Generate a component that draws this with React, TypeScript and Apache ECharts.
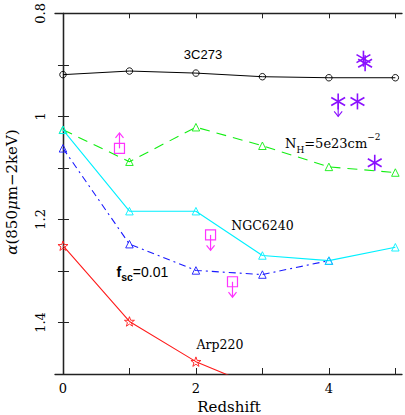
import React, { useEffect, useRef } from 'react';
import * as echarts from 'echarts';

// ---- data ----
const redshift = [0, 1, 2, 3, 4, 5];
const alpha3C273 = [0.919, 0.912, 0.916, 0.923, 0.925, 0.925];
const alphaNH = [1.026, 1.088, 1.021, 1.057, 1.098, 1.109];
const alphaNGC6240 = [1.026, 1.184, 1.184, 1.27, 1.28, 1.254];
const alphaFsc = [1.062, 1.248, 1.299, 1.307, 1.28];
const alphaArp220 = [1.251, 1.398, 1.476, 1.53];

const limitX = [0.85, 2.22, 2.55];
const limitY = [1.062, 1.23, 1.321];
const limitTip = [1.032, 1.26, 1.351];

const obsX = [4.52, 4.545, 4.14, 4.43, 4.69];
const obsY = [0.888, 0.897, 0.971, 0.971, 1.09];
const obsTip = [0, 0, 1.0, 0, 0];

const xTicks = [0, 1, 2, 3, 4, 5];
const xLabels = [0, 2, 4];
const yTicks = [0.8, 0.9, 1.0, 1.1, 1.2, 1.3, 1.4];
const yLabels = [0.8, 1.0, 1.2, 1.4];

const GREEN = '#12ee12';
const CYAN = '#00f0ff';
const BLUE = '#1a1aff';
const RED = '#ff1a1a';
const MAGENTA = '#ff33ff';
const PURPLE = '#8a10ff';

const STAR = 'path://M0,-10 L2.35,-3.24 L9.51,-3.09 L3.8,1.24 L5.88,8.09 L0,4 L-5.88,8.09 L-3.8,1.24 L-9.51,-3.09 L-2.35,-3.24 Z';

const pairs = (xs: number[], ys: number[]) => ys.map((y, i) => [xs[i], y]);

export default function App() {
  const ref = useRef<HTMLDivElement>(null);
  useEffect(() => {
    if (!ref.current) return;
    const chart = echarts.init(ref.current, null, { renderer: 'svg' });
    const serif = 'DejaVu Serif';
    const axisLineStyle = { color: '#222', width: 1.3 };
    const xBase = {
      type: 'value',
      min: -0.12,
      max: 5.1,
      splitLine: { show: false },
      axisLine: { show: true, lineStyle: axisLineStyle },
    };
    const yBase = {
      type: 'value',
      min: 0.8,
      max: 1.5,
      inverse: true,
      splitLine: { show: false },
      axisLine: { show: true, lineStyle: axisLineStyle },
    };
    const mk = (color: string) => ({ color: 'rgba(255,255,255,0)', borderColor: color, borderWidth: 0.9 });
    const option: any = {
      animation: false,
      backgroundColor: '#fff',
      grid: { left: 55, top: 12, right: 3, bottom: 41 },
      xAxis: [
        {
          ...xBase,
          position: 'bottom',
          axisTick: { show: true, inside: true, length: 6, customValues: xTicks, lineStyle: { color: '#222' } },
          axisLabel: { show: true, customValues: xLabels, margin: 8, color: '#000', fontFamily: serif, fontSize: 13 },
        },
        {
          ...xBase,
          position: 'top',
          axisTick: { show: true, inside: true, length: 5, customValues: xTicks, lineStyle: { color: '#222' } },
          axisLabel: { show: false },
        },
      ],
      yAxis: [
        {
          ...yBase,
          position: 'left',
          axisTick: { show: true, inside: true, length: 6, customValues: yTicks, lineStyle: { color: '#222' } },
          axisLabel: {
            show: true,
            customValues: yLabels,
            rotate: 90,
            margin: 8,
            color: '#000',
            fontFamily: serif,
            fontSize: 13,
            formatter: (v: number) => String(Math.round(v * 10) / 10),
          },
        },
        {
          ...yBase,
          position: 'right',
          axisTick: { show: true, inside: true, length: 5, customValues: yTicks, lineStyle: { color: '#222' } },
          axisLabel: { show: false },
        },
      ],
      series: [
        {
          type: 'line',
          data: pairs(redshift, alpha3C273),
          symbol: 'circle',
          symbolSize: 6.5,
          itemStyle: mk('#000'),
          lineStyle: { color: '#000', width: 1 },
        },
        {
          type: 'line',
          data: pairs(redshift, alphaNH),
          symbol: 'triangle',
          symbolSize: 7.5,
          itemStyle: mk(GREEN),
          lineStyle: { color: GREEN, width: 1.1, type: [10, 7] },
        },
        {
          type: 'line',
          data: pairs(redshift, alphaFsc),
          symbol: 'triangle',
          symbolSize: 7.5,
          itemStyle: mk(BLUE),
          lineStyle: { color: BLUE, width: 1.1, type: [7, 4, 2, 4] },
        },
        {
          type: 'line',
          data: pairs(redshift, alphaNGC6240),
          symbol: 'triangle',
          symbolSize: 7.5,
          itemStyle: mk(CYAN),
          lineStyle: { color: CYAN, width: 1.1 },
        },
        {
          type: 'line',
          data: pairs(redshift, alphaArp220),
          symbol: STAR,
          symbolSize: 10,
          symbolKeepAspect: true,
          clip: true,
          itemStyle: mk(RED),
          lineStyle: { color: RED, width: 1.1 },
        },
        {
          type: 'custom',
          encode: { x: 0, y: 1 },
          data: limitX.map((x, i) => [x, limitY[i], limitTip[i]]),
          renderItem: (params: any, api: any) => {
            const c = api.coord([api.value(0), api.value(1)]);
            const t = api.coord([api.value(0), api.value(2)]);
            const dir = t[1] < c[1] ? 1 : -1;
            const st = { stroke: MAGENTA, fill: 'none', lineWidth: 1.2 };
            return {
              type: 'group',
              children: [
                { type: 'rect', shape: { x: c[0] - 5, y: c[1] - 5, width: 10, height: 10 }, style: st },
                { type: 'line', shape: { x1: c[0], y1: c[1], x2: t[0], y2: t[1] }, style: st },
                {
                  type: 'polyline',
                  shape: { points: [[t[0] - 4, t[1] + dir * 5], [t[0], t[1]], [t[0] + 4, t[1] + dir * 5]] },
                  style: st,
                },
              ],
            };
          },
        },
        {
          type: 'custom',
          encode: { x: 0, y: 1 },
          data: obsX.map((x, i) => [x, obsY[i], obsTip[i]]),
          renderItem: (params: any, api: any) => {
            const c = api.coord([api.value(0), api.value(1)]);
            const st = { stroke: PURPLE, fill: 'none', lineWidth: 1.6 };
            const r = 8;
            const children: any[] = [];
            [90, 30, -30].forEach((deg) => {
              const a = (deg * Math.PI) / 180;
              const dx = r * Math.cos(a);
              const dy = r * Math.sin(a);
              children.push({ type: 'line', shape: { x1: c[0] - dx, y1: c[1] - dy, x2: c[0] + dx, y2: c[1] + dy }, style: st });
            });
            const tip = api.value(2);
            if (tip > 0) {
              const t = api.coord([api.value(0), tip]);
              const ast = { stroke: PURPLE, fill: 'none', lineWidth: 1.1 };
              children.push({ type: 'line', shape: { x1: c[0], y1: c[1], x2: t[0], y2: t[1] }, style: ast });
              children.push({
                type: 'polyline',
                shape: { points: [[t[0] - 4, t[1] - 5], [t[0], t[1]], [t[0] + 4, t[1] - 5]] },
                style: ast,
              });
            }
            return { type: 'group', children };
          },
        },
      ],
      graphic: [
        {
          type: 'text',
          x: 203,
          y: 54,
          style: { text: '3C273', font: '13px "Liberation Sans"', fill: '#000', align: 'center', verticalAlign: 'middle' },
        },
        {
          type: 'text',
          x: 285,
          y: 143,
          style: {
            text: '{n|N}{sub|H}{n|=5e23cm}{sup|−2}',
            fill: '#000',
            align: 'left',
            verticalAlign: 'middle',
            rich: {
              n: { fontFamily: serif, fontSize: 13, lineHeight: 22, verticalAlign: 'middle', fill: '#000' },
              sub: { fontFamily: serif, fontSize: 9, lineHeight: 10, verticalAlign: 'bottom', fill: '#000' },
              sup: { fontFamily: serif, fontSize: 9, lineHeight: 10, verticalAlign: 'top', fill: '#000' },
            },
          },
        },
        {
          type: 'text',
          x: 262.5,
          y: 225,
          style: { text: 'NGC6240', font: '12.5px "DejaVu Serif"', fill: '#000', align: 'center', verticalAlign: 'middle' },
        },
        {
          type: 'text',
          x: 116.5,
          y: 272,
          style: {
            text: '{f|f}{s|sc}{t|=0.01}',
            fill: '#000',
            align: 'left',
            verticalAlign: 'middle',
            rich: {
              f: { fontFamily: 'Liberation Sans', fontWeight: 'bold', fontSize: 14, lineHeight: 20, verticalAlign: 'middle', fill: '#000' },
              s: { fontFamily: 'Liberation Sans', fontWeight: 'bold', fontSize: 10.5, lineHeight: 11, verticalAlign: 'bottom', fill: '#000' },
              t: { fontFamily: 'Liberation Sans', fontSize: 14, lineHeight: 20, verticalAlign: 'middle', fill: '#000' },
            },
          },
        },
        {
          type: 'text',
          x: 220,
          y: 344,
          style: { text: 'Arp220', font: '12.5px "DejaVu Serif"', fill: '#000', align: 'center', verticalAlign: 'middle' },
        },
        {
          type: 'text',
          x: 229,
          y: 407,
          style: { text: 'Redshift', font: '15px "DejaVu Serif"', fill: '#000', align: 'center', verticalAlign: 'middle' },
        },
        {
          type: 'text',
          x: 12,
          y: 192,
          rotation: Math.PI / 2,
          style: {
            text: '{i|α}{n|(850}{i|μ}{n|m−2keV)}',
            fill: '#000',
            align: 'center',
            verticalAlign: 'middle',
            rich: {
              i: { fontFamily: serif, fontStyle: 'italic', fontSize: 15, fill: '#000' },
              n: { fontFamily: serif, fontSize: 15, fill: '#000' },
            },
          },
        },
      ],
    };
    chart.setOption(option);
    return () => chart.dispose();
  }, []);
  return (
    <div
      ref={ref}
      style={{ position: 'fixed', left: 0, top: 0, width: 405, height: 415, background: '#fff' }}
    />
  );
}
